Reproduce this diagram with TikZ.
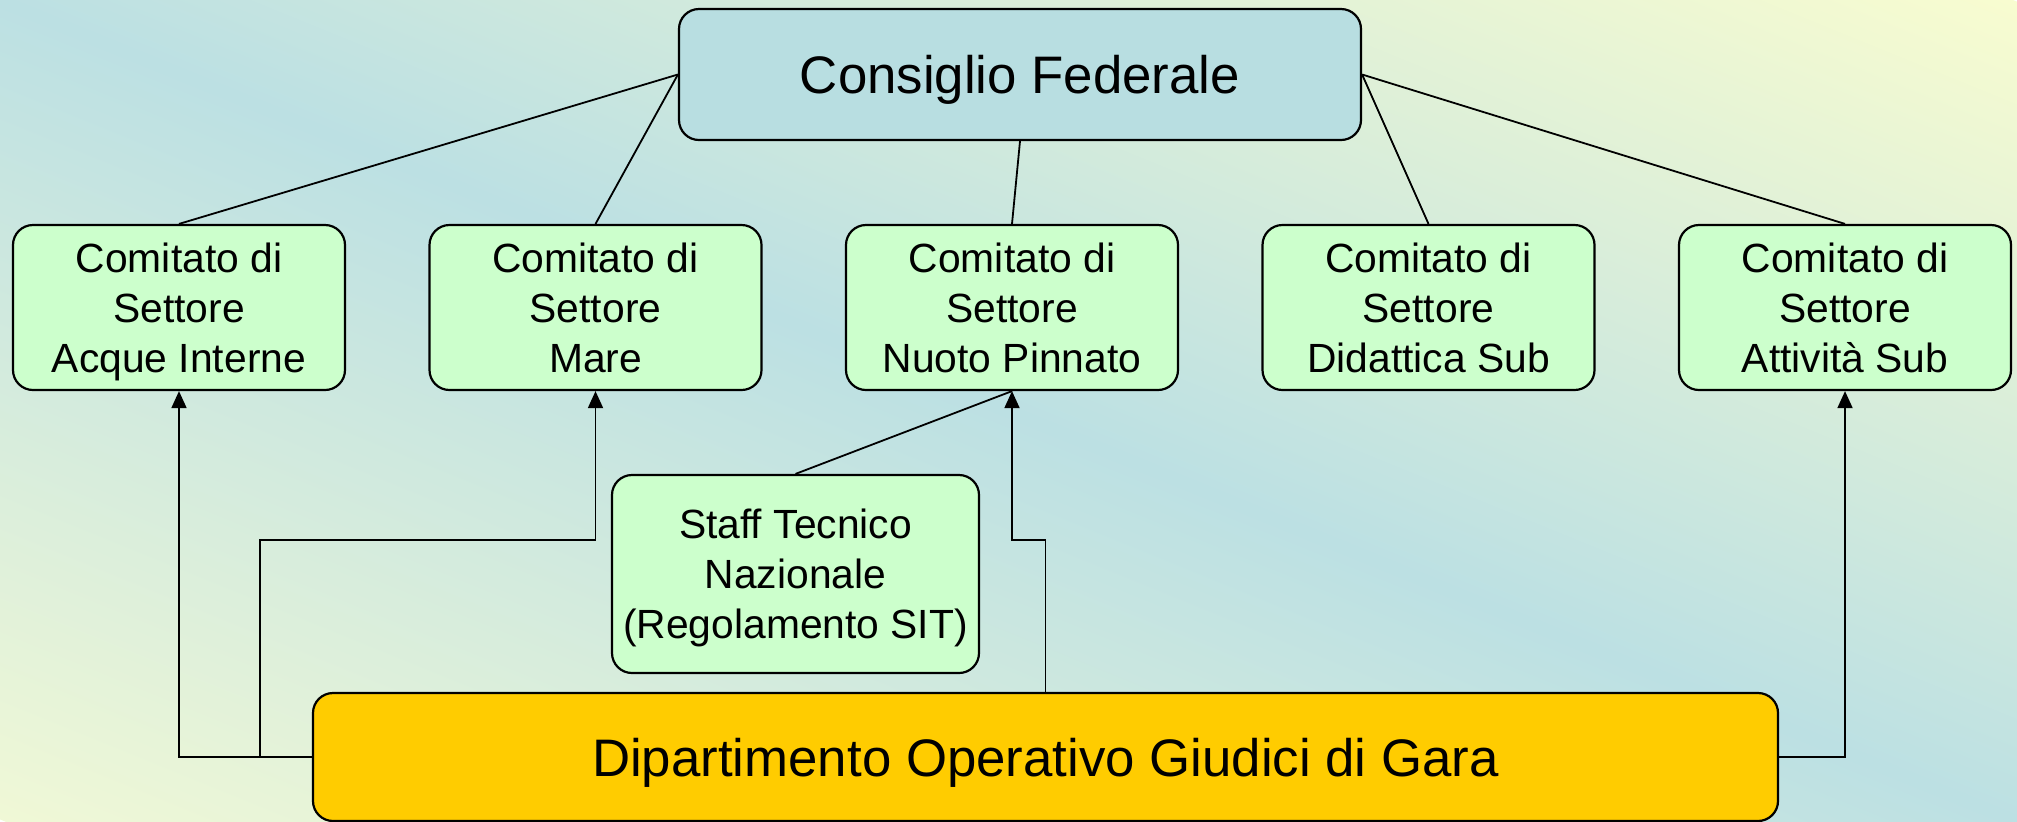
\documentclass[tikz,border=0pt]{standalone}
\usepackage{fontspec}
\setmainfont{Liberation Sans}
\usetikzlibrary{arrows.meta}
\definecolor{bgblue}{HTML}{BCE0E3}
\definecolor{bgyelA}{HTML}{F0F8D6}
\definecolor{bgyelB}{HTML}{F8FCD0}
\definecolor{cfblue}{HTML}{B8DEE1}
\definecolor{boxgreen}{HTML}{CCFFCC}
\definecolor{dipgold}{HTML}{FFCC00}
\begin{document}
\begin{tikzpicture}[x=0.5pt,y=-0.5pt,
  box/.style={draw=black, line width=1.1pt, rounded corners=10pt, align=center, inner sep=0pt, text depth=0pt},
  comitato/.style={box, fill=boxgreen, minimum width=166pt, minimum height=82.5pt, font=\fontsize{20.4}{25}\selectfont},
  bigbox/.style={box, font=\fontsize{26.4}{32}\selectfont},
  link/.style={line width=0.9pt},
  arr/.style={line width=0.9pt, -{Triangle[length=8.5pt,width=7.5pt]}}]
\useasboundingbox (0,0) rectangle (2017,821);
% background gradient
\begin{scope}
\clip (0,0) rectangle (2017,821);
\begin{scope}[transform canvas={shift={(1008.5,410.5)}, rotate=67.85}]
\shade[left color=bgyelA, right color=bgyelB, middle color=bgblue] (-759,-1300) rectangle (759,1300);
\end{scope}
\end{scope}
% nodes
\node[bigbox, fill=cfblue, minimum width=341pt, minimum height=65.5pt] (cf) at (1020,74.5) {Consiglio Federale};
\node[comitato] (c1) at (179,307.5) {Comitato di\\Settore\\Acque Interne};
\node[comitato] (c2) at (595.5,307.5) {Comitato di\\Settore\\Mare};
\node[comitato] (c3) at (1012,307.5) {Comitato di\\Settore\\Nuoto Pinnato};
\node[comitato] (c4) at (1428.5,307.5) {Comitato di\\Settore\\Didattica Sub};
\node[comitato] (c5) at (1845,307.5) {Comitato di\\Settore\\Attività Sub};
\node[comitato, minimum width=183.5pt, minimum height=99pt] (st) at (795.5,574) {Staff Tecnico\\Nazionale\\(Regolamento SIT)};
\node[bigbox, fill=dipgold, minimum width=732.5pt, minimum height=64pt] (dip) at (1045.5,757) {Dipartimento Operativo Giudici di Gara};
% links
\draw[link] (cf.west) -- (c1.north);
\draw[link] (cf.west) -- (c2.north);
\draw[link] (cf.south) -- (c3.north);
\draw[link] (cf.east) -- (c4.north);
\draw[link] (cf.east) -- (c5.north);
\draw[link] (st.north) -- (c3.south);
% arrows
\coordinate (k2) at (260,540);
\coordinate (k3) at (1012,540);
\draw[arr] (dip.west) -| (c1.south);
\draw[arr] (dip.west) -| (k2) -| (c2.south);
\draw[arr] (dip.north) |- (k3) -- (c3.south);
\draw[arr] (dip.east) -| (c5.south);
\end{tikzpicture}
\end{document}
